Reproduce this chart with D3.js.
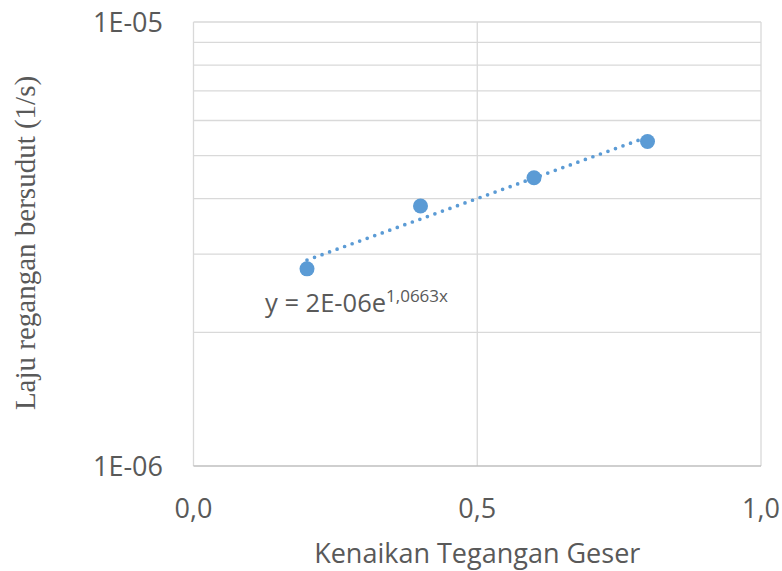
<!DOCTYPE html>
<html>
<head>
<meta charset="utf-8">
<script src="https://cdn.jsdelivr.net/npm/d3@7"></script>
<style>
html,body{margin:0;padding:0;background:#fff;}
svg{display:block;}
</style>
</head>
<body>
<svg id="chart" width="782" height="571"></svg>
<script>
const xValues = [0.2, 0.4, 0.6, 0.8];
const yValues = [2.78e-6, 3.85e-6, 4.46e-6, 5.38e-6];
const xTicks = [0, 0.5, 1.0];
const xTickLabels = ["0,0", "0,5", "1,0"];
const yTicks = [1e-6, 1e-5];
const yTickLabels = ["1E-06", "1E-05"];
const yGrid = [2e-6, 3e-6, 4e-6, 5e-6, 6e-6, 7e-6, 8e-6, 9e-6];
const equationMain = "y = 2E-06e";
const equationExp = "1,0663x";
const xTitle = "Kenaikan Tegangan Geser";
const yTitle = "Laju regangan bersudut (1/s)";

(function () {
const svg = d3.select("#chart");
const pL = 193.5, pR = 761, pT = 22, pB = 466;
const x = d3.scaleLinear().domain([0, 1]).range([pL, pR]);
const y = d3.scaleLog().domain([1e-6, 1e-5]).range([pB, pT]);

const textColor = "#595959";
const gridColor = "#d9d9d9";
const blue = "#5B9BD5";
const font = "'Open Sans', sans-serif";

// horizontal gridlines
svg.append("g").selectAll("line").data(yGrid.concat([1e-5])).join("line")
  .attr("x1", pL).attr("x2", pR)
  .attr("y1", d => y(d)).attr("y2", d => y(d))
  .attr("stroke", gridColor).attr("stroke-width", 1.3);
// vertical gridlines
svg.append("g").selectAll("line").data(xTicks).join("line")
  .attr("x1", d => x(d)).attr("x2", d => x(d))
  .attr("y1", pT).attr("y2", pB)
  .attr("stroke", gridColor).attr("stroke-width", 1.3);
// bottom axis line
svg.append("line").attr("x1", pL).attr("x2", pR)
  .attr("y1", pB).attr("y2", pB)
  .attr("stroke", "#bfbfbf").attr("stroke-width", 1.3);

// x tick labels
svg.append("g").selectAll("text").data(xTicks).join("text")
  .attr("x", d => x(d)).attr("y", 518)
  .attr("text-anchor", "middle")
  .attr("font-family", font).attr("font-size", 27).attr("fill", textColor)
  .text((d, i) => xTickLabels[i]);
// y tick labels
svg.append("g").selectAll("text").data(yTicks).join("text")
  .attr("x", 163).attr("y", d => y(d) + 10)
  .attr("text-anchor", "end")
  .attr("font-family", font).attr("font-size", 27).attr("fill", textColor)
  .text((d, i) => yTickLabels[i]);

// axis titles
svg.append("text").attr("x", (pL + pR) / 2).attr("y", 563)
  .attr("text-anchor", "middle")
  .attr("font-family", font).attr("font-size", 27).attr("fill", textColor)
  .text(xTitle);
svg.append("text")
  .attr("transform", "translate(35,243) rotate(-90)")
  .attr("text-anchor", "middle")
  .attr("font-family", "'Liberation Serif', 'Times New Roman', serif")
  .attr("font-size", 29).attr("fill", textColor)
  .text(yTitle);

// exponential trendline via least squares on ln(y)
const n = xValues.length;
const lny = yValues.map(Math.log);
const mx = d3.mean(xValues), my = d3.mean(lny);
const b = d3.sum(xValues.map((v, i) => (v - mx) * (lny[i] - my))) / d3.sum(xValues.map(v => (v - mx) ** 2));
const a = Math.exp(my - b * mx);
const xs = d3.range(0, 31).map(i => xValues[0] + (xValues[n - 1] - xValues[0]) * i / 30);
const line = d3.line().x(d => x(d)).y(d => y(a * Math.exp(b * d)));
svg.append("path").datum(xs).attr("d", line)
  .attr("fill", "none").attr("stroke", blue).attr("stroke-width", 3.7)
  .attr("stroke-linecap", "round").attr("stroke-dasharray", "0,8");

// markers
svg.append("g").selectAll("circle").data(xValues).join("circle")
  .attr("cx", d => x(d)).attr("cy", (d, i) => y(yValues[i]))
  .attr("r", 7.5).attr("fill", blue);

// equation
const eq = svg.append("text").attr("x", 265).attr("y", 312)
  .attr("font-family", font).attr("fill", textColor);
eq.append("tspan").attr("font-size", 25.5).text(equationMain);
eq.append("tspan").attr("font-size", 17).attr("dy", -10).text(equationExp);
})();
</script>
</body>
</html>
